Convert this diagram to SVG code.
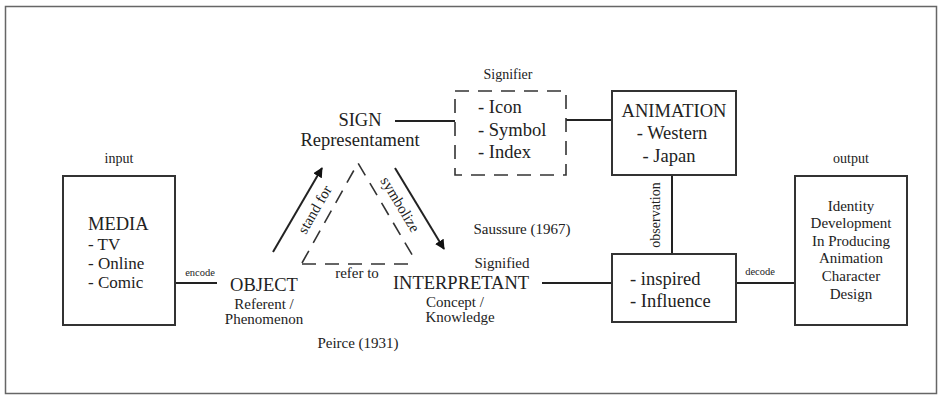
<svg xmlns="http://www.w3.org/2000/svg" width="943" height="396" viewBox="0 0 943 396">
<style>
text{font-family:"Liberation Serif","Times New Roman",serif;fill:#222}
.big{font-size:18.5px}
.lst{font-size:17px}
.mid{font-size:15px}
.lab{font-size:14px}
.sm{font-size:10.5px}
.box{fill:none;stroke:#333;stroke-width:2}
.ln{stroke:#222;stroke-width:2;fill:none}
.dash{fill:none;stroke:#333;stroke-width:1.6;stroke-dasharray:14 9}
.c{text-anchor:middle}
</style>
<defs>
<marker id="ah" viewBox="0 0 10 10" refX="9" refY="5" markerWidth="5" markerHeight="5" orient="auto" markerUnits="strokeWidth">
<path d="M0,0 L10,5 L0,10 z" fill="#111"/>
</marker>
</defs>
<rect x="0" y="0" width="943" height="396" fill="#fff"/>
<rect x="5.5" y="6.5" width="931" height="387" fill="none" stroke="#666" stroke-width="1.5"/>

<g id="connectors">
<line class="ln" x1="175" y1="283" x2="217" y2="283"/>
<line class="ln" x1="395" y1="121" x2="455" y2="121"/>
<line class="ln" x1="566" y1="120" x2="612" y2="120"/>
<line class="ln" x1="672" y1="175" x2="672" y2="254"/>
<line class="ln" x1="542" y1="283" x2="612" y2="283"/>
<line class="ln" x1="736" y1="283" x2="795" y2="283"/>
<line class="ln" x1="273" y1="252" x2="322" y2="168" marker-end="url(#ah)"/>
<line class="ln" x1="395" y1="168" x2="444" y2="249" marker-end="url(#ah)"/>
<polyline class="dash" points="302,263 358,163 414,258"/>
<line class="dash" x1="302" y1="264" x2="413" y2="264"/>
<text class="sm c" x="200" y="276">encode</text>
<text class="sm c" x="760" y="275">decode</text>
<text class="mid c" transform="translate(319,212) rotate(-60)">stand for</text>
<text class="mid c" transform="translate(396,207) rotate(59)">symbolize</text>
<text class="mid c" x="357" y="278">refer to</text>
<text class="lab c" transform="translate(660,215) rotate(-90)">observation</text>
</g>

<g id="media">
<text class="lab c" x="119" y="163">input</text>
<rect class="box" x="63" y="176" width="112" height="149"/>
<text class="big" x="88" y="230">MEDIA</text>
<text class="lst" x="88" y="250">- TV</text>
<text class="lst" x="88" y="269">- Online</text>
<text class="lst" x="88" y="288">- Comic</text>
</g>

<g id="object">
<text class="big c" x="264" y="291">OBJECT</text>
<text class="mid c" x="264" y="309">Referent /</text>
<text class="mid c" x="264" y="324">Phenomenon</text>
</g>

<g id="sign">
<text class="big c" x="360" y="126">SIGN</text>
<text class="big c" x="360" y="146">Representament</text>
</g>

<g id="signifier">
<text class="lab c" x="508" y="79">Signifier</text>
<rect class="dash" x="455" y="91" width="111" height="84"/>
<text class="big" x="478" y="113">- Icon</text>
<text class="big" x="478" y="136">- Symbol</text>
<text class="big" x="478" y="158">- Index</text>
</g>

<g id="animation">
<rect class="box" x="612" y="91" width="124" height="84"/>
<text class="big c" x="674" y="117">ANIMATION</text>
<text class="big c" x="672" y="139">- Western</text>
<text class="big c" x="669" y="162">- Japan</text>
</g>

<g id="interpretant">
<text class="mid c" x="522" y="234">Saussure (1967)</text>
<text class="mid c" x="502" y="268">Signified</text>
<text class="big c" x="461" y="289">INTERPRETANT</text>
<text class="mid c" x="455" y="307">Concept /</text>
<text class="mid c" x="460" y="322">Knowledge</text>
</g>

<g id="peirce">
<text class="mid c" x="358" y="348">Peirce (1931)</text>
</g>

<g id="inspired">
<rect class="box" x="612" y="254" width="124" height="68"/>
<text class="big" x="630" y="285">- inspired</text>
<text class="big" x="630" y="307">- Influence</text>
</g>

<g id="output">
<text class="lab c" x="851" y="163">output</text>
<rect class="box" x="795" y="176" width="112" height="149"/>
<text class="mid c" x="851" y="211">Identity</text>
<text class="mid c" x="851" y="228">Development</text>
<text class="mid c" x="851" y="246">In Producing</text>
<text class="mid c" x="851" y="263">Animation</text>
<text class="mid c" x="851" y="281">Character</text>
<text class="mid c" x="851" y="299">Design</text>
</g>
</svg>
